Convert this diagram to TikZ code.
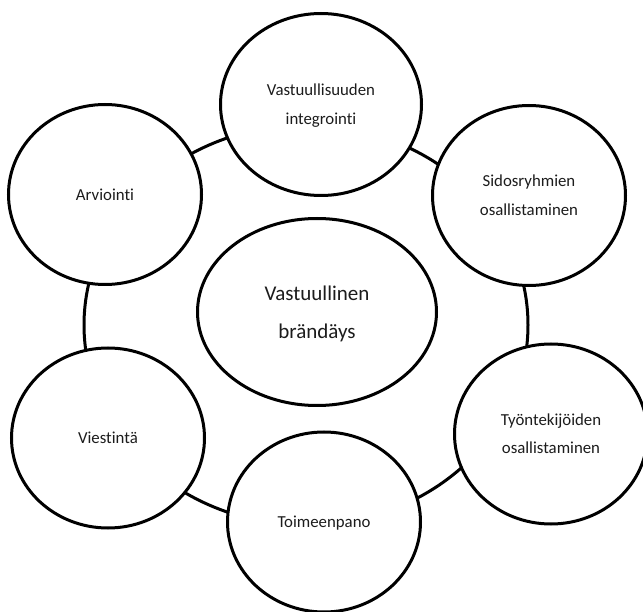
\documentclass[tikz,border=0pt]{standalone}
\usepackage{fontspec}
\setmainfont[Ligatures=NoCommon]{Carlito}
\usetikzlibrary{shapes.geometric}
\definecolor{txt}{RGB}{28,28,28}
\newcommand\lblsm[1]{\raisebox{5.7pt}{\begin{tabular}{@{}c@{}}#1\end{tabular}}}
\newcommand\lblbig[1]{\raisebox{6.6pt}{\begin{tabular}{@{}c@{}}#1\end{tabular}}}
\begin{document}
\begin{tikzpicture}[x=1pt,y=-1pt,
  bub/.style={ellipse, draw=black, line width=3pt, fill=white, inner sep=0pt,
    minimum width=193pt, minimum height=180pt, text=txt,
    font=\fontsize{16.8}{28.5}\selectfont},
  bigbub/.style={bub, minimum width=239pt, minimum height=187pt,
    font=\fontsize{21}{38}\selectfont},
  ringstyle/.style={ellipse, draw=black, line width=3pt, inner sep=0pt,
    minimum width=444pt, minimum height=400pt}]
\useasboundingbox (0,0) rectangle (643,612);
\node[ringstyle] (ring) at (306,325) {};
\node[bub, minimum width=201pt, minimum height=182pt] (integ) at (321,104.5) {\lblsm{Vastuullisuuden\\integrointi}};
\node[bub] (arv) at (105,194.5) {\lblsm{Arviointi}};
\node[bub] (sido) at (529,195.5) {\lblsm{Sidosryhmien\\osallistaminen}};
\node[bub] (vies) at (108,438) {\lblsm{Viestintä}};
\node[bub] (tyon) at (551,434) {\lblsm{Työntekijöiden\\osallistaminen}};
\node[bub] (toim) at (324,522) {\lblsm{Toimeenpano}};
\node[bigbub] (vast) at (317,312) {\lblbig{Vastuullinen\\brändäys}};
\end{tikzpicture}
\end{document}
